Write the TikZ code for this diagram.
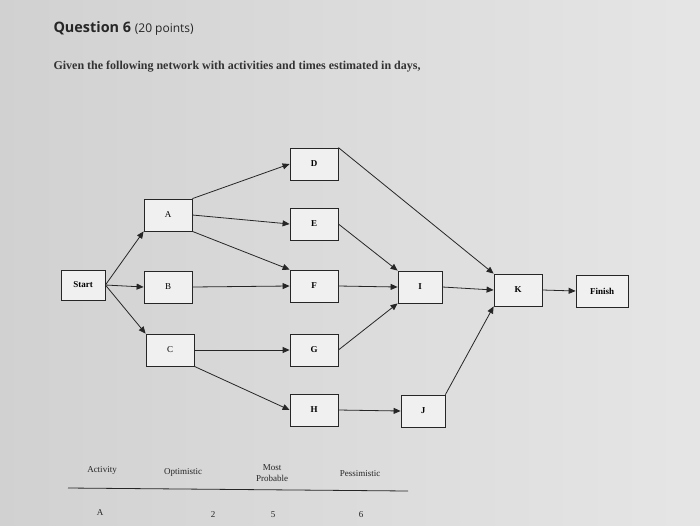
\documentclass[tikz,border=0pt]{standalone}
\usepackage{fontspec}
\setmainfont{Liberation Serif}
\newfontfamily\qfont{Open Sans}
\usetikzlibrary{arrows.meta}
\begin{document}
\begin{tikzpicture}[x=1pt,y=-1pt,
  box/.style={draw=black!85,thick,fill=white!88!gray,minimum width=48pt,minimum height=32pt,font=\small,inner sep=0pt},
  arr/.style={draw=black!85,thick,-{Triangle[length=7pt,width=6pt]}},
  lbl/.style={font=\small,text=black!85,align=center}]
\shade[left color=black!18,right color=black!10] (0,0) rectangle (700,525);
\useasboundingbox (0,0) rectangle (700,525);
\node[anchor=west,font=\qfont\Large,text=black!85] (q) at (50,28) {\textbf{Question 6} {\large(20 points)}};
\node[anchor=west,font=\large\bfseries,text=black!80] (g) at (50,67) {Given the following network with activities and times estimated in days,};
\node[box,minimum width=44pt,minimum height=30pt] (st) at (83,285) {\textbf{Start}};
\node[box] (A) at (168,215) {A};
\node[box] (B) at (168,287) {B};
\node[box] (C) at (170,350) {C};
\node[box] (D) at (314,164) {\textbf{D}};
\node[box] (E) at (314,224) {\textbf{E}};
\node[box] (F) at (314,286) {\textbf{F}};
\node[box] (G) at (314,350) {\textbf{G}};
\node[box] (H) at (314,410) {\textbf{H}};
\node[box,minimum width=44pt] (I) at (420,287) {\textbf{I}};
\node[box,minimum width=44pt] (J) at (423,411) {\textbf{J}};
\node[box] (K) at (518,290) {\textbf{K}};
\node[box,minimum width=52pt] (Fi) at (602,291) {\textbf{Finish}};
\draw[arr] (st.east) -- (A.south west);
\draw[arr] (st.east) -- (B.west);
\draw[arr] (st.east) -- (C.north west);
\draw[arr] (A.north east) -- (D.west);
\draw[arr] (A.east) -- (E.west);
\draw[arr] (A.south east) -- (F.north west);
\draw[arr] (B.east) -- (F.west);
\draw[arr] (C.east) -- (G.west);
\draw[arr] (C.south east) -- (H.west);
\draw[arr] (D.north east) -- (K.north west);
\draw[arr] (E.east) -- (I.north west);
\draw[arr] (F.east) -- (I.west);
\draw[arr] (G.east) -- (I.south west);
\draw[arr] (H.east) -- (J.west);
\draw[arr] (I.east) -- (K.west);
\draw[arr] (J.north east) -- (K.south west);
\draw[arr] (K.east) -- (Fi.west);
\node[lbl] (t1) at (102,470) {Activity};
\node[lbl] (t2) at (183,472) {Optimistic};
\node[lbl] (t3) at (272,473) {Most\\Probable};
\node[lbl] (t4) at (360,474) {Pessimistic};
\draw[black!85,thick] (68,488) -- (408,491);
\node[lbl] (r1) at (100,513) {A};
\node[lbl] (r2) at (213,515) {2};
\node[lbl] (r3) at (273,515) {5};
\node[lbl] (r4) at (361,515) {6};
\end{tikzpicture}
\end{document}
